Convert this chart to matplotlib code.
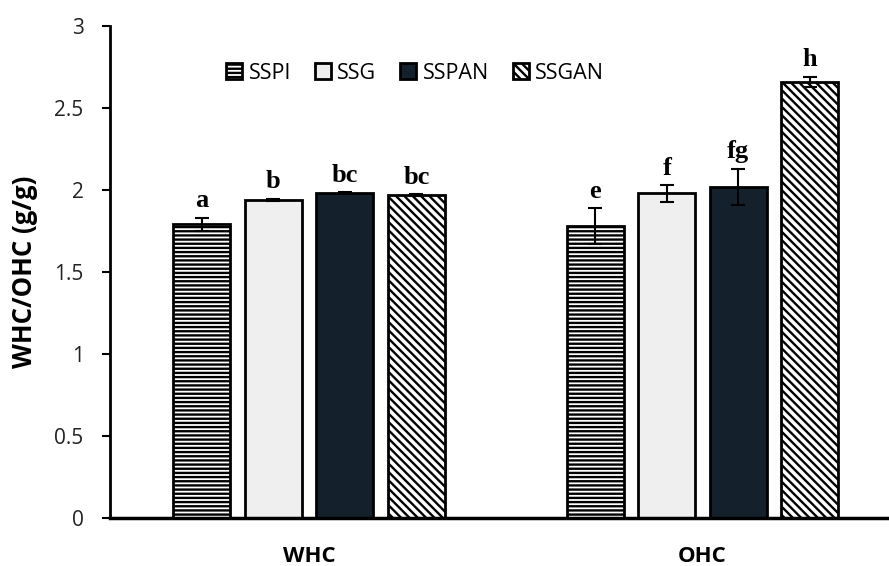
import numpy as np
import matplotlib.pyplot as plt

groups = ['WHC', 'OHC']
samples = ['SSPI', 'SSG', 'SSPAN', 'SSGAN']
values = {
    'SSPI': [1.79, 1.78],
    'SSG': [1.94, 1.98],
    'SSPAN': [1.98, 2.02],
    'SSGAN': [1.97, 2.66],
}
errors = {
    'SSPI': [0.04, 0.11],
    'SSG': [0.005, 0.05],
    'SSPAN': [0.005, 0.11],
    'SSGAN': [0.005, 0.03],
}
letters = {
    'SSPI': ['a', 'e'],
    'SSG': ['b', 'f'],
    'SSPAN': ['bc', 'fg'],
    'SSGAN': ['bc', 'h'],
}

colors = {'SSPI': 'white', 'SSG': '#efefef', 'SSPAN': '#14212c', 'SSGAN': 'white'}
hatches = {'SSPI': '----', 'SSG': None, 'SSPAN': None, 'SSGAN': '\\\\\\\\'}

plt.rcParams['hatch.linewidth'] = 1.7
plt.rcParams['font.family'] = ['Open Sans', 'DejaVu Sans']

fig = plt.figure(figsize=(8.89, 5.66), dpi=100)
ax = fig.add_axes([0.1237, 0.0848, 0.8763, 0.8692])

x = np.arange(len(groups))
width = 0.145
step = 0.182

for k, s in enumerate(samples):
    pos = x + (k - 1.5) * step
    ax.bar(pos, values[s], width, color=colors[s], edgecolor='black',
           linewidth=2, hatch=hatches[s], label=s, zorder=2)
    ax.errorbar(pos, values[s], yerr=errors[s], fmt='none', ecolor='black',
                elinewidth=1.5, capsize=5, capthick=1.5, zorder=3)
    for p, v, e, t in zip(pos, values[s], errors[s], letters[s]):
        ax.annotate(t, (p, v + e), xytext=(0, 4), textcoords='offset points',
                    ha='center', va='bottom', fontsize=19, fontweight='bold',
                    family='Liberation Serif')

ax.set_xlim(-0.506, 1.474)
ax.set_ylim(0, 3)
ax.set_yticks([0, 0.5, 1, 1.5, 2, 2.5, 3])
ax.set_yticklabels(['0', '0.5', '1', '1.5', '2', '2.5', '3'])
ax.set_xticks(x)
ax.set_xticklabels(groups, fontweight='bold', fontsize=16)
ax.tick_params(axis='x', length=0, pad=20)
ax.tick_params(axis='y', labelsize=15, width=1.5, length=6, pad=13, labelcolor='#222222')
ax.set_ylabel('WHC/OHC (g/g)', fontsize=18.5, fontweight='bold', labelpad=12)

for side in ['top', 'right']:
    ax.spines[side].set_visible(False)
ax.spines['left'].set_linewidth(2)
ax.spines['bottom'].set_linewidth(2.5)

ax.legend(loc='center left', bbox_to_anchor=(0.135, 0.904), ncol=4, frameon=False,
          fontsize=15.5, handlelength=0.75, handleheight=0.75, handletextpad=0.3,
          columnspacing=1.1, borderpad=0)

plt.savefig('out.png', dpi=100)
